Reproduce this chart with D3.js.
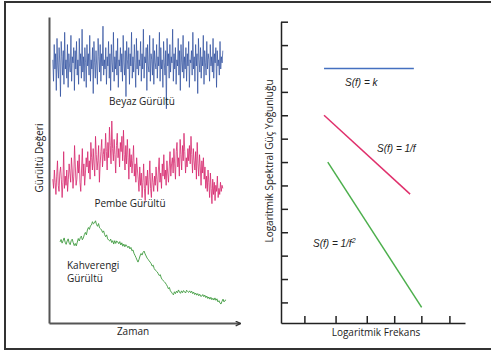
<!DOCTYPE html>
<html>
<head>
<meta charset="utf-8">
<script src="https://cdn.jsdelivr.net/npm/d3@7"></script>
<style>
  body { margin: 0; background: #fff; }
  svg { display: block; }
  .lbl { font-family: "Open Sans", sans-serif; font-size: 10px; fill: #222; }
  .eq { font-family: "Liberation Sans", Arial, sans-serif; font-size: 10px; font-style: italic; fill: #222; }
</style>
</head>
<body>
<svg id="chart"></svg>
<script>
// ---- data: left panel (noise value over time, arbitrary units) ----
const whiteNoise = [
  86,79,91,83,88,76,93,84,80,90,85,74,92,87,81,89,78,95,83,86,80,91,77,88,84,
  82,94,79,87,85,90,76,89,83,92,81,86,78,93,84,88,80,96,82,87,79,90,85,77,91,
  84,88,81,94,79,86,83,90,75,92,85,80,89,84,78,93,87,82,91,79,88,84,97,81,86,
  83,90,78,87,84,92,80,88,76,91,85,82,95,79,87,83,89,81,93,77,86,84,90,82,88,
  79,94,85,81,89,74,92,86,83,90,78,88,84,95,80,87,82,91,85,77,93,83,89,81,86,
  84,92,79,88,83,96,80,87,85,90,76,91,84,82,94,79,88,86,81,93,78,89,85,83,91,
  80,87,84,95,79,90,83,86,77,92,85,81,89,70,93,84,88,80,91,82,87,85,96,79,88,
  83,90,78,86,84,93,81,89,76,91,85,82,94,80,87,83,90,79,88,84,92,77,86,85,89,
  81,95,83,87,79,91,84,88,75,93,86,82,90,80,87,84,94,78,89,85,81,92,83,88,86,
  79,91,84,87,82,93,80,88,85,90,77,89,84,86,81,92,83,87,85,89];
const pinkNoise = [
  47,44,50,46,42,48,53,45,43,49,51,47,41,46,56,44,48,45,50,43,47,52,
  49,46,54,50,44,48,58,51,45,47,53,49,55,46,43,50,57,48,52,45,49,54,
  51,56,49,53,47,59,54,50,57,52,48,61,55,50,53,58,46,52,56,60,51,55,
  57,53,62,56,50,59,54,64,58,52,66,57,53,60,55,49,58,62,54,57,51,59,
  56,61,53,63,55,50,58,52,60,54,47,57,51,55,49,53,58,48,52,46,54,50,
  47,43,51,45,49,41,46,52,44,40,48,45,50,42,47,53,44,41,49,46,43,48,
  45,51,47,43,50,54,46,49,44,52,48,55,47,50,45,53,49,46,51,56,48,52,
  54,49,57,52,47,56,59,51,54,48,60,55,50,58,53,62,56,49,54,51,57,53,
  58,52,61,55,49,57,53,50,56,47,59,52,48,55,51,45,53,49,54,47,51,44,
  48,43,50,46,41,49,44,39,47,42,46,40,45,43,48,41,44,42,46,43,45,44];
const brownNoise = [
  26.5,27.3,26.1,26.9,27.8,26.4,25.7,26.8,27.5,26.1,
  25.6,26.9,27.4,26.2,25.3,26.0,25.2,
  26.4,27.6,26.8,27.9,28.4,27.2,27.8,
  28.9,29.6,28.8,30.4,31.2,30.6,31.8,32.0,
  33.1,32.4,32.7,33.4,32.2,31.6,32.5,31.1,30.8,30.4,
  29.6,30.1,28.9,28.2,28.8,27.5,27.1,26.8,
  27.4,26.3,26.9,25.8,26.9,26.0,26.8,26.5,
  25.9,26.6,25.5,26.2,25.1,25.8,24.9,25.6,25.2,
  24.6,25.1,24.2,24.7,23.6,23.9,
  22.8,22.1,21.4,20.6,19.9,
  20.8,21.9,22.7,22.2,23.1,23.5,
  22.6,21.9,21.2,20.8,20.3,19.9,
  19.4,18.6,18.9,17.8,17.3,17.0,16.7,
  16.1,15.5,15.8,14.7,14.2,13.8,13.5,13.1,
  12.6,12.0,11.2,11.6,10.5,10.1,9.6,9.2,
  10.2,9.6,10.4,9.9,10.8,10.1,9.7,10.5,9.9,10.6,10.2,9.8,10.7,10.3,10.0,10.5,
  9.9,10.4,9.6,10.1,9.3,9.8,9.1,9.6,8.9,9.4,8.7,8.8,
  9.3,8.6,9.1,8.3,8.8,8.0,8.5,7.8,8.4,7.6,8.1,7.5,
  8.2,7.4,7.9,6.9,7.3,6.5,6.2,
  7.1,7.8,6.9,7.4,7.5];
const noiseTimeSpans = [[2, 91], [2, 91], [5.8, 92.7]];

// ---- data: right panel (log frequency vs log spectral density) ----
const freqTicks = [0.75, 1.75, 2.75, 3.63, 4.5, 5.4];
const psdTicks = [1, 2, 3, 4, 5, 6, 7, 8, 9, 10, 11, 12, 13];
const whiteSpectrum = [[1.38, 11.0], [4.26, 11.0]];
const pinkSpectrum = [[1.38, 9.0], [4.14, 5.63]];
const brownSpectrum = [[1.5, 7.0], [4.51, 0.79]];

const W = 491, H = 351;
const svg = d3.select('#chart').attr('width', W).attr('height', H);

// outer frame (open on the right edge)
svg.append('rect')
  .attr('x', 5).attr('y', 2)
  .attr('width', 520).attr('height', 347)
  .attr('fill', 'none')
  .attr('stroke', '#333')
  .attr('stroke-width', 2);

// ===== left panel =====
const tScale = d3.scaleLinear().domain([0, 100]).range([49, 240]);
const vScale = d3.scaleLinear().domain([0, 100]).range([323, 17]);

svg.append('defs').append('marker')
  .attr('id', 'arrow')
  .attr('viewBox', '0 0 10 10')
  .attr('refX', 9).attr('refY', 5)
  .attr('markerWidth', 6).attr('markerHeight', 6)
  .attr('markerUnits', 'userSpaceOnUse')
  .attr('orient', 'auto')
  .append('path')
  .attr('d', 'M1,1 L9,5 L1,9')
  .attr('fill', 'none')
  .attr('stroke', '#333')
  .attr('stroke-width', 2);

const left = svg.append('g');

left.append('g')
  .attr('transform', `translate(${tScale(0)},0)`)
  .call(d3.axisLeft(vScale).tickValues([]).tickSizeOuter(0))
  .select('.domain').attr('stroke', '#555').attr('stroke-width', 2);

left.append('g')
  .attr('transform', `translate(0,${vScale(0)})`)
  .call(d3.axisBottom(tScale).tickValues([]).tickSizeOuter(0))
  .select('.domain')
  .attr('stroke', '#555').attr('stroke-width', 2)
  .attr('marker-end', 'url(#arrow)');

const noiseSeries = [
  { values: whiteNoise, color: '#2a4a9c', width: 0.7 },
  { values: pinkNoise, color: '#d6266c', width: 0.8 },
  { values: brownNoise, color: '#3d9a3d', width: 0.9 }
];

noiseSeries.forEach((s, k) => {
  const span = noiseTimeSpans[k];
  const step = (span[1] - span[0]) / (s.values.length - 1);
  const line = d3.line()
    .x((d, i) => tScale(span[0] + i * step))
    .y(d => vScale(d));
  left.append('path')
    .attr('d', line(s.values))
    .attr('fill', 'none')
    .attr('stroke', s.color)
    .attr('stroke-width', s.width);
});

left.append('text').attr('class', 'lbl').attr('x', 142).attr('y', 105)
  .attr('text-anchor', 'middle').text('Beyaz Gürültü');
left.append('text').attr('class', 'lbl').attr('x', 130).attr('y', 207)
  .attr('text-anchor', 'middle').text('Pembe Gürültü');
left.append('text').attr('class', 'lbl').attr('x', 67).attr('y', 269).text('Kahverengi');
left.append('text').attr('class', 'lbl').attr('x', 67).attr('y', 282).text('Gürültü');
left.append('text').attr('class', 'lbl').attr('x', 133).attr('y', 335)
  .attr('text-anchor', 'middle').text('Zaman');
left.append('text').attr('class', 'lbl')
  .attr('transform', 'translate(43,158) rotate(-90)')
  .attr('text-anchor', 'middle').text('Gürültü Değeri');

// ===== right panel =====
const fScale = d3.scaleLinear().domain([0, 5.9]).range([281, 465]);
const pScale = d3.scaleLinear().domain([0.12, 13]).range([323, 21.7]);

const right = svg.append('g');

const yAx = right.append('g')
  .attr('transform', `translate(${fScale(0)},0)`)
  .call(d3.axisLeft(pScale).tickValues(psdTicks).tickSize(-7).tickSizeOuter(0).tickFormat(''));
yAx.selectAll('.domain, .tick line').attr('stroke', '#222').attr('stroke-width', 1.5);

const xAx = right.append('g')
  .attr('transform', `translate(0,${pScale(0.12)})`)
  .call(d3.axisBottom(fScale).tickValues(freqTicks).tickSize(-7).tickSizeOuter(0).tickFormat(''));
xAx.selectAll('.domain, .tick line').attr('stroke', '#222').attr('stroke-width', 1.5);

const specLine = d3.line().x(d => fScale(d[0])).y(d => pScale(d[1]));
[
  { pts: whiteSpectrum, color: '#4470c0' },
  { pts: pinkSpectrum, color: '#e0306c' },
  { pts: brownSpectrum, color: '#4caf4c' }
].forEach(s => {
  right.append('path')
    .attr('d', specLine(s.pts))
    .attr('fill', 'none')
    .attr('stroke', s.color)
    .attr('stroke-width', 1.5);
});

right.append('text').attr('class', 'eq').attr('x', 345).attr('y', 86).text('S(f) = k');
right.append('text').attr('class', 'eq').attr('x', 377).attr('y', 152).text('S(f) = 1/f');
const eq3 = right.append('text').attr('class', 'eq').attr('x', 313).attr('y', 247).text('S(f) = 1/f');
eq3.append('tspan').attr('dy', -4).attr('font-size', '7px').text('2');

right.append('text').attr('class', 'lbl').attr('x', 376).attr('y', 336)
  .attr('text-anchor', 'middle').text('Logaritmik Frekans');
right.append('text').attr('class', 'lbl')
  .attr('transform', 'translate(273,161) rotate(-90)')
  .attr('text-anchor', 'middle').text('Logaritmik Spektral Güç Yoğunluğu');
</script>
</body>
</html>
